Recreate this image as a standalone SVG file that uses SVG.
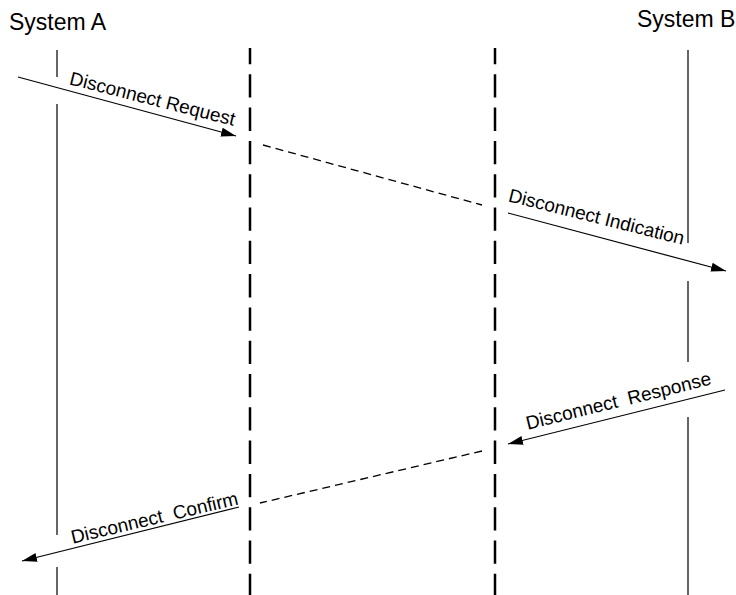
<svg xmlns="http://www.w3.org/2000/svg" width="736" height="595" viewBox="0 0 736 595">
<defs>
<style>
.title{font-family:"Liberation Sans",Arial,sans-serif;font-size:23px;fill:#000}
.lbl{font-family:"Liberation Sans",Arial,sans-serif;font-size:19px;fill:#000}
.life{stroke:#333;stroke-width:1.5;fill:none}
.mid{stroke:#000;stroke-width:2.5;fill:none;stroke-dasharray:23.3 10;stroke-dashoffset:7}
.msg{stroke:#000;stroke-width:1.2;fill:none}
.fwd{stroke:#000;stroke-width:1.3;fill:none;stroke-dasharray:8 5}
</style>
<marker id="ah" markerUnits="userSpaceOnUse" markerWidth="16" markerHeight="10" refX="15" refY="4.5" orient="auto">
<path d="M0,0 L15,4.5 L0,9 z" fill="#000"/>
</marker>
</defs>
<rect width="736" height="595" fill="#fff"/>
<g id="system-a">
<text class="title" x="9" y="29.5">System A</text>
<path class="life" d="M57,50 V77 M57,104 V535 M57,567 V595"/>
</g>
<g id="system-b">
<text class="title" x="637" y="27">System B</text>
<path class="life" d="M688,50 V243 M688,281 V362 M688,417 V595"/>
</g>
<g id="layer-a">
<line class="mid" x1="250" y1="48" x2="250" y2="595"/>
</g>
<g id="layer-b">
<line class="mid" x1="495" y1="48" x2="495" y2="595"/>
</g>
<g id="connectors">
<line class="msg" x1="18" y1="77" x2="236" y2="136" marker-end="url(#ah)"/>
<text class="lbl" text-anchor="middle" transform="translate(151,105) rotate(14.2)">Disconnect Request</text>
<line class="fwd" x1="263" y1="145" x2="482" y2="205"/>
<line class="msg" x1="508" y1="213" x2="726" y2="271" marker-end="url(#ah)"/>
<text class="lbl" text-anchor="middle" transform="translate(595,223) rotate(14)">Disconnect Indication</text>
<line class="msg" x1="725" y1="390" x2="508" y2="444" marker-end="url(#ah)"/>
<text class="lbl" text-anchor="middle" xml:space="preserve" transform="translate(620,407) rotate(-13.8)">Disconnect  Response</text>
<line class="fwd" x1="482" y1="451" x2="260" y2="503"/>
<line class="msg" x1="239" y1="507" x2="22" y2="561" marker-end="url(#ah)"/>
<text class="lbl" text-anchor="middle" xml:space="preserve" transform="translate(156,524) rotate(-13.3)">Disconnect  Confirm</text>
</g>
</svg>
